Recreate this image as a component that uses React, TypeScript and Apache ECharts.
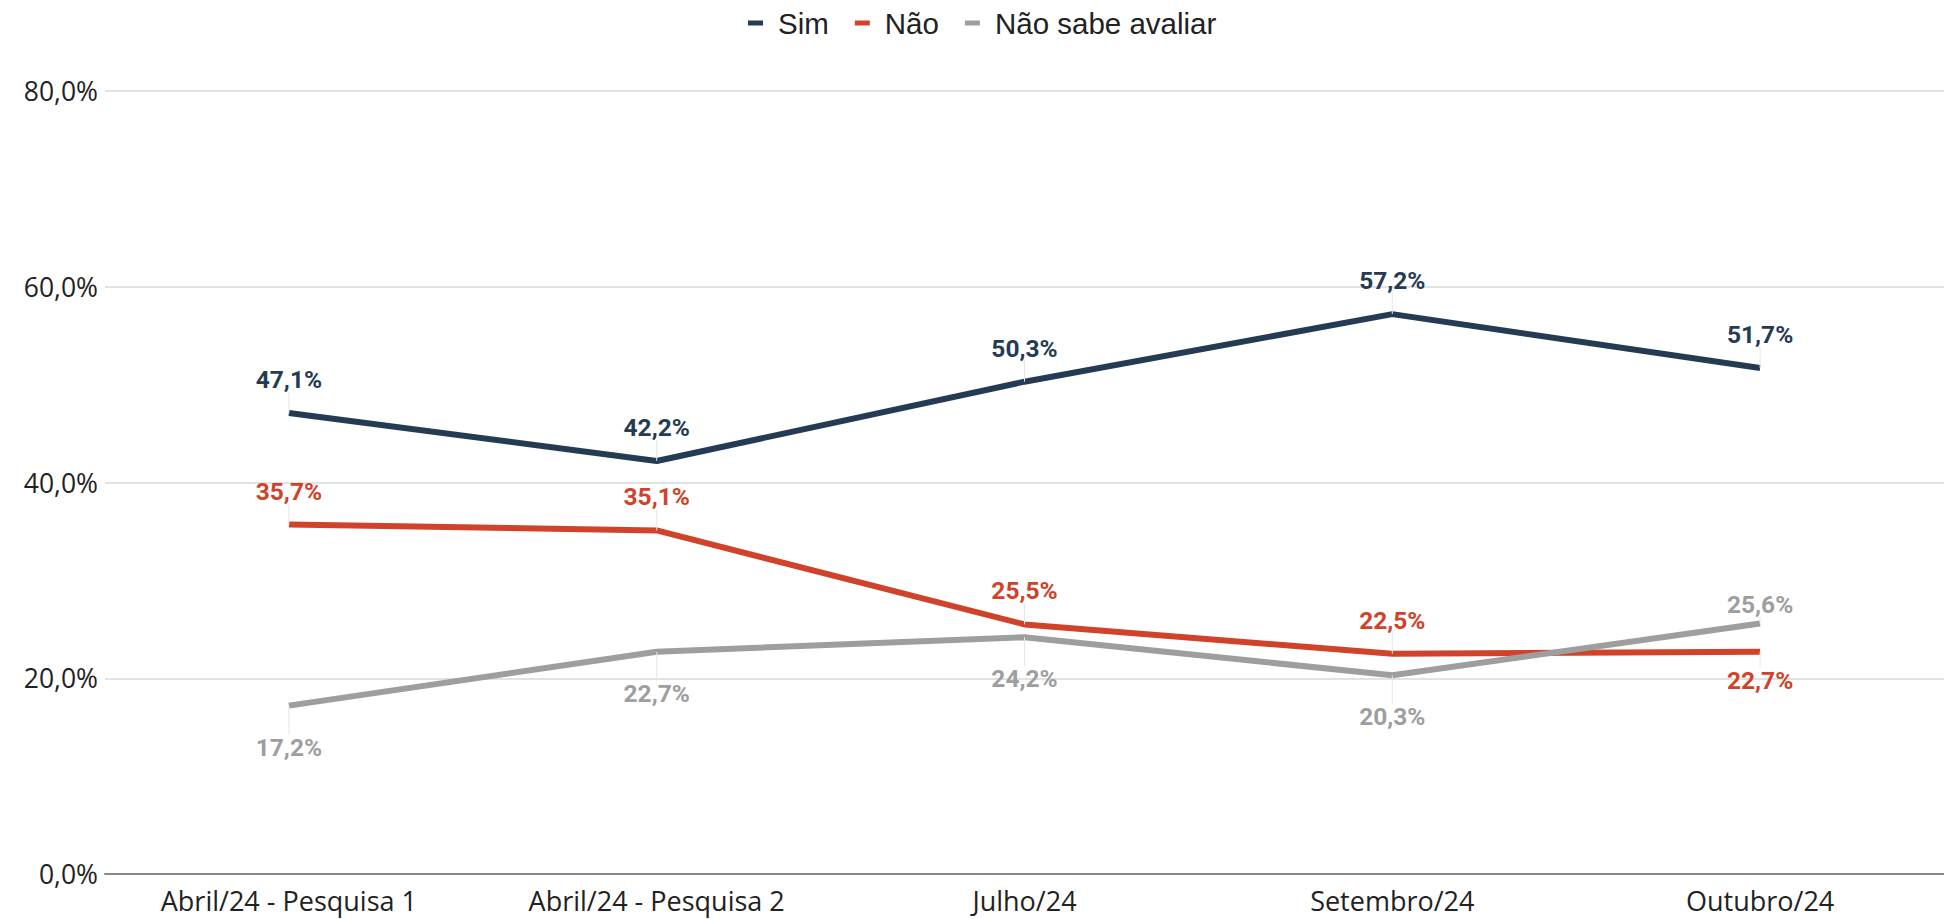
import React, { useEffect, useRef } from "react";
import * as echarts from "echarts";

const categories = ["Abril/24 - Pesquisa 1", "Abril/24 - Pesquisa 2", "Julho/24", "Setembro/24", "Outubro/24"];
const simValues = [47.1, 42.2, 50.3, 57.2, 51.7];
const naoValues = [35.7, 35.1, 25.5, 22.5, 22.7];
const naoSabeValues = [17.2, 22.7, 24.2, 20.3, 25.6];
const simLabelPos = ["top", "top", "top", "top", "top"];
const naoLabelPos = ["top", "top", "top", "top", "bottom"];
const naoSabeLabelPos = ["bottom", "bottom", "bottom", "bottom", "top"];
const yTicks = [0, 20, 40, 60, 80];

const fmt = (v: number) => v.toFixed(1).replace(".", ",") + "%";

export default function App() {
  const ref = useRef<HTMLDivElement>(null);
  useEffect(() => {
    if (!ref.current) return;
    const chart = echarts.init(ref.current, null, { renderer: "svg" });
    // label shifts (pixels) per series / point
    const shifts = [
      [-15, -15, -15, -15, -15],
      [-15, -15, -15, -15, 10],
      [23, 23, 23, 23, 0],
    ];
    const makeData = (values: number[], positions: string[]) =>
      values.map((v, i) => ({ value: v, label: { position: positions[i] } }));
    const mkSeries = (name: string, color: string, data: any[], idx: number) => ({
      name,
      type: "line",
      data,
      symbol: "circle",
      symbolSize: 0.1,
      showSymbol: true,
      lineStyle: { color, width: 6 },
      itemStyle: { color },
      label: {
        show: true,
        fontFamily: "Roboto",
        fontWeight: "bold",
        fontSize: 24.5,
        distance: 6,
        color,
        formatter: (p: any) => fmt(p.value),
      },
      labelLine: { show: true, lineStyle: { color: "#e6e6e6", width: 1 } },
      labelLayout: (params: any) => ({ dy: shifts[idx][params.dataIndex] }),
      z: 3,
    });
    chart.setOption({
      animation: false,
      backgroundColor: "#ffffff",
      legend: {
        top: 3,
        left: 743,
        itemWidth: 15,
        itemHeight: 5,
        itemGap: 26,
        icon: "rect",
        textStyle: { fontFamily: "Liberation Sans, Arial", fontSize: 29.5, color: "#222", padding: [0, 0, 0, 10] },
        data: ["Sim", "Não", "Não sabe avaliar"],
      },
      grid: { left: 105, right: -5, top: 91, bottom: 45, containLabel: false },
      xAxis: {
        type: "category",
        data: categories,
        boundaryGap: true,
        axisTick: { show: false },
        axisLine: { lineStyle: { color: "#888", width: 2 } },
        axisLabel: { fontFamily: "Open Sans", fontSize: 27, color: "#222", margin: 13 },
      },
      yAxis: {
        type: "value",
        min: yTicks[0],
        max: yTicks[yTicks.length - 1],
        interval: 20,
        axisLabel: { fontFamily: "Open Sans", fontSize: 26.5, color: "#222", margin: 7, formatter: (v: number) => fmt(v) },
        splitLine: { lineStyle: { color: "#d9d9d9", width: 1.5 } },
        axisLine: { show: false },
        axisTick: { show: false },
      },
      series: [
        mkSeries("Sim", "#243b53", makeData(simValues, simLabelPos), 0),
        mkSeries("Não", "#d0422a", makeData(naoValues, naoLabelPos), 1),
        mkSeries("Não sabe avaliar", "#9e9e9e", makeData(naoSabeValues, naoSabeLabelPos), 2),
      ],
    });
    return () => chart.dispose();
  }, []);
  return <div ref={ref} style={{ position: "fixed", left: 0, top: 0, width: 1944, height: 919 }} />;
}
